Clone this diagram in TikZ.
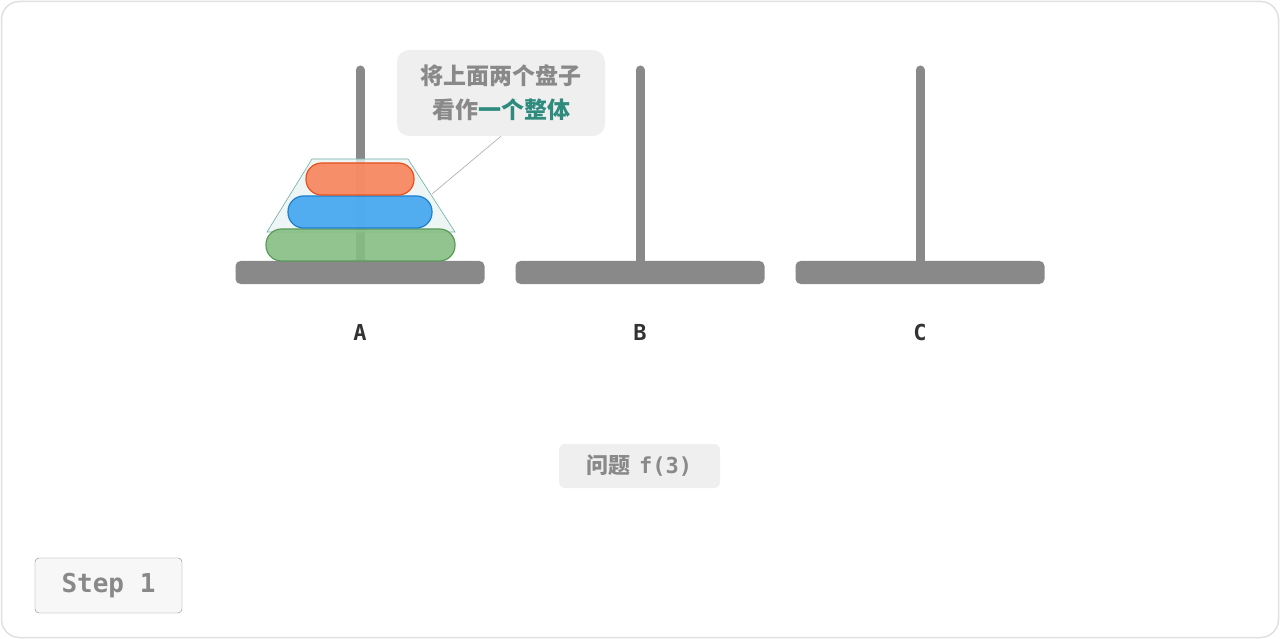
\documentclass[tikz,border=0pt]{standalone}
\usepackage{fontspec}
\setmonofont{DejaVu Sans Mono}
\newfontfamily\cjk{Noto Sans CJK SC}
\definecolor{rodc}{HTML}{898989}
\definecolor{teal}{HTML}{2E8B7E}
\definecolor{boxbg}{HTML}{EFEFEF}
\definecolor{og}{HTML}{F7845A}\definecolor{ogd}{HTML}{E8501E}
\definecolor{bl}{HTML}{42A5F0}\definecolor{bld}{HTML}{1E7FCC}
\definecolor{gr}{HTML}{86BE83}\definecolor{grd}{HTML}{5A9A58}
\tikzset{
  rodline/.style={rodc,line width=9pt,line cap=round},
  basebox/.style={fill=rodc,rounded corners=5pt},
  disk/.style={rounded corners=15.5pt,line width=1.2pt,fill opacity=0.9},
  lbl/.style={font=\ttfamily\bfseries\fontsize{22}{26}\selectfont,text=black!80},
}
\begin{document}
\begin{tikzpicture}[x=1pt,y=-1pt]
\useasboundingbox (0,0) rectangle (1280,639);
\draw[black!12,line width=1.5pt,rounded corners=18pt] (1.5,1.5) rectangle (1278.5,637.5);
\foreach \x/\n in {360/A,640/B,920/C}{
  \draw[rodline] (\x,70) -- (\x,262);
  \fill[basebox] (\x-124.5,261) rectangle (\x+124.5,284);
  \node[lbl] (l\n) at (\x,332) {\n};
}
\draw[teal!70,fill=teal!10,fill opacity=0.8,line width=0.6pt] (312,159) -- (408,159) -- (455,232) -- (267,232) -- cycle;
\coordinate (tp) at (432,194);
\draw[disk,draw=grd,fill=gr] (266,229) rectangle (455,261);
\draw[disk,draw=bld,fill=bl] (288,196) rectangle (432,228);
\draw[disk,draw=ogd,fill=og] (306,163) rectangle (414,195);
\node[fill=boxbg,rounded corners=12pt,minimum width=208pt,minimum height=86pt,align=center,font=\cjk\bfseries\fontsize{23}{34}\selectfont,text=rodc] (call) at (501,93) {将上面两个盘子\\看作\textcolor{teal}{一个整体}};
\draw[black!30,line width=0.7pt] (call.south) -- (tp);
\node[fill=boxbg,rounded corners=6pt,minimum width=161pt,minimum height=44pt,font=\bfseries\fontsize{22}{26}\selectfont,text=rodc] (prob) at (639.5,466) {{\cjk 问题} \texttt{f(3)}};
\node[draw=rodc,fill=black!3,rounded corners=4pt,minimum width=147pt,minimum height=55pt,font=\ttfamily\bfseries\fontsize{26}{30}\selectfont,text=rodc] (step) at (108.5,585.5) {Step 1};
\end{tikzpicture}
\end{document}
